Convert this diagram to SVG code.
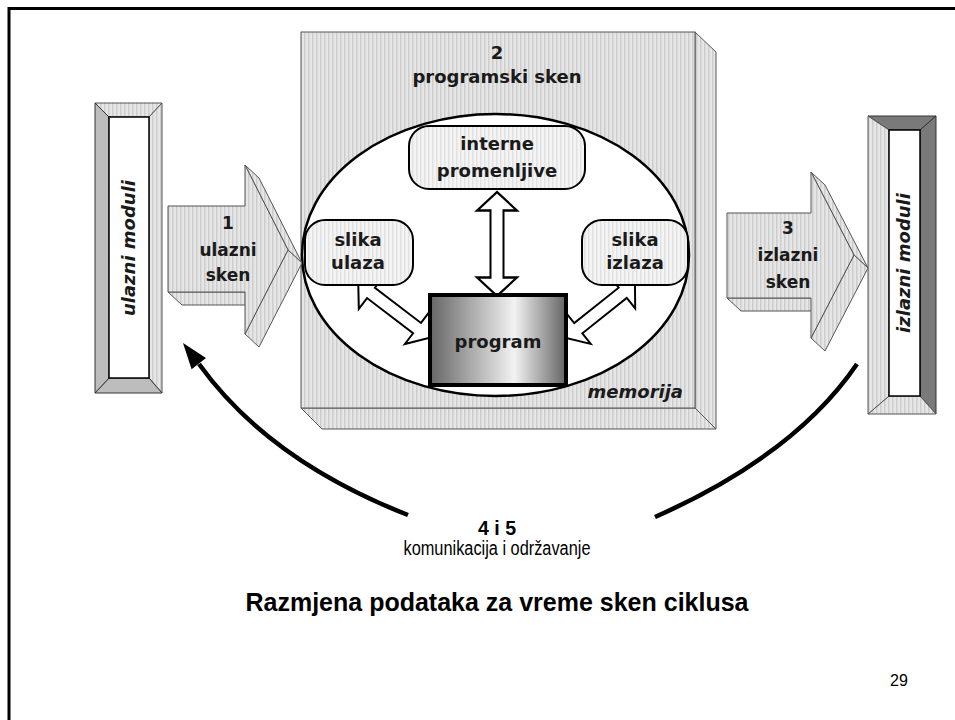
<svg xmlns="http://www.w3.org/2000/svg" width="955" height="720" viewBox="0 0 955 720">
<defs>
  <pattern id="hatch" width="4" height="4" patternUnits="userSpaceOnUse">
    <rect width="4" height="4" fill="#e6e6e6"/>
    <rect x="0" width="1.5" height="4" fill="#cdcdcd"/>
  </pattern>
  <pattern id="hatchLight" width="4" height="4" patternUnits="userSpaceOnUse">
    <rect width="4" height="4" fill="#f4f4f4"/>
    <rect x="0" width="1.5" height="4" fill="#e2e2e2"/>
  </pattern>
  <linearGradient id="progGrad" x1="0" y1="0" x2="1" y2="0">
    <stop offset="0" stop-color="#666"/>
    <stop offset="0.62" stop-color="#f2f2f2"/>
    <stop offset="1" stop-color="#646464"/>
  </linearGradient>
  <polygon id="dbl" points="-45,0 -29,-20 -29,-6.5 29,-6.5 29,-20 45,0 29,20 29,6.5 -29,6.5 -29,20"/>
</defs>
<style>
  .face{fill:url(#hatch);stroke:#555;stroke-width:1}
  .node{font-family:"DejaVu Sans",Verdana,sans-serif;font-weight:bold;font-size:18px;fill:#1a1a1a}
  .mid{text-anchor:middle}
  .end{text-anchor:end}
  .arr{font-size:17px}
  .rbox{fill:url(#hatchLight);stroke:#000;stroke-width:2}
  .darr{fill:#fff;stroke:#000;stroke-width:2;stroke-linejoin:miter}
  .dark{fill:#7a7a7a;stroke:#333;stroke-width:1}
  .gray{fill:#bdbdbd;stroke:#333;stroke-width:1}
  .lbl{font-family:"Liberation Sans",Arial,sans-serif;fill:#000;text-anchor:middle}
</style>

<g id="frame" fill="none" stroke="#000" stroke-width="3">
  <path d="M9,720 V8.5 H955"/>
</g>

<g id="memorija">
  <polygon class="face" points="695,32 716,52 716,429 695,408"/>
  <polygon class="face" points="301,408 695,408 716,429 322,429"/>
  <rect class="face" x="301" y="32" width="394" height="376" stroke="#333" stroke-width="1.5"/>
  <text class="node mid" x="497" y="59">2</text>
  <text class="node mid" x="497" y="83">programski sken</text>
  <ellipse cx="495.5" cy="255" rx="193.5" ry="141" fill="#fff" stroke="#000" stroke-width="2.5"/>
  <text class="node end" x="683" y="398" font-style="italic">memorija</text>
</g>

<g id="connectors">
  <use href="#dbl" class="darr" transform="translate(497,244) rotate(90) scale(1.155,1)"/>
  <use href="#dbl" class="darr" transform="translate(394,310.5) rotate(37.4)"/>
  <use href="#dbl" class="darr" transform="translate(600.5,310.5) rotate(141.4) scale(0.98,1)"/>
  <path d="M408,515 Q268,460 199,364" fill="none" stroke="#000" stroke-width="4.5"/>
  <polygon points="183,343 206,358 191.6,369.2" fill="#000"/>
  <path d="M655,517 Q795,455 857,364" fill="none" stroke="#000" stroke-width="4.5"/>
</g>

<g id="interne">
  <rect class="rbox" x="409" y="126" width="176" height="63" rx="20"/>
  <text class="node mid" x="497" y="150">interne</text>
  <text class="node mid" x="497" y="177">promenljive</text>
</g>

<g id="slika-ulaza">
  <rect class="rbox" x="305" y="220" width="108" height="65" rx="20"/>
  <text class="node mid" x="358" y="246">slika</text>
  <text class="node mid" x="358" y="269">ulaza</text>
</g>

<g id="slika-izlaza">
  <rect class="rbox" x="582" y="220" width="106" height="65" rx="20"/>
  <text class="node mid" x="635" y="246">slika</text>
  <text class="node mid" x="635" y="269">izlaza</text>
</g>

<g id="program">
  <rect x="430" y="295" width="136" height="90" fill="url(#progGrad)" stroke="#000" stroke-width="4"/>
  <text class="node mid" x="498" y="348">program</text>
</g>

<g id="ulazni-moduli">
  <polygon class="face" points="95,103 162,103 149,117 109,117"/>
  <polygon class="face" points="162,103 162,393 149,378 149,117"/>
  <polygon class="gray" points="95,393 162,393 149,378 109,378"/>
  <polygon class="gray" points="95,103 109,117 109,378 95,393"/>
  <rect x="109" y="117" width="40" height="261" fill="#fff" stroke="#000" stroke-width="1.5"/>
  <text class="node mid" transform="translate(135,248) rotate(-90)" font-style="italic">ulazni moduli</text>
</g>

<g id="izlazni-moduli">
  <polygon class="dark" points="868,116 936,116 920,130 889,130"/>
  <polygon class="dark" points="936,116 936,414 920,396 920,130"/>
  <polygon class="face" points="868,414 936,414 920,396 889,396"/>
  <polygon class="face" points="868,116 889,130 889,396 868,414"/>
  <rect x="889" y="130" width="31" height="266" fill="#fff" stroke="#000" stroke-width="1.5"/>
  <text class="node mid" transform="translate(910,263) rotate(-90)" font-style="italic">izlazni moduli</text>
</g>

<g id="ulazni-sken">
  <polygon class="face" points="168,292 245,292 259,305 182,305"/>
  <polygon class="face" points="245,165 259,178 302,263 288,250"/>
  <polygon class="face" points="288,250 302,263 259,347 245,334"/>
  <polygon class="face" points="168,206 245,206 245,165 288,250 245,334 245,292 168,292"/>
  <text class="node mid arr" x="228" y="229">1</text>
  <text class="node mid arr" x="228" y="256">ulazni</text>
  <text class="node mid arr" x="228" y="281">sken</text>
</g>

<g id="izlazni-sken">
  <polygon class="face" points="727,298 811,298 825,311 741,311"/>
  <polygon class="face" points="811,172 825,185 868,268 854,255"/>
  <polygon class="face" points="854,255 868,268 825,351 811,338"/>
  <polygon class="face" points="727,213 811,213 811,172 854,255 811,338 811,298 727,298"/>
  <text class="node mid arr" x="788" y="234">3</text>
  <text class="node mid arr" x="788" y="261">izlazni</text>
  <text class="node mid arr" x="788" y="288">sken</text>
</g>

<g id="labels">
  <text class="lbl" x="497" y="535" font-size="20" font-weight="bold" textLength="38" lengthAdjust="spacingAndGlyphs">4 i 5</text>
  <text class="lbl" x="497" y="555" font-size="20" textLength="187" lengthAdjust="spacingAndGlyphs">komunikacija i održavanje</text>
  <text class="lbl" x="497" y="611" font-size="25" font-weight="bold">Razmjena podataka za vreme sken ciklusa</text>
  <text class="lbl" x="899" y="686" font-size="16">29</text>
</g>
</svg>
